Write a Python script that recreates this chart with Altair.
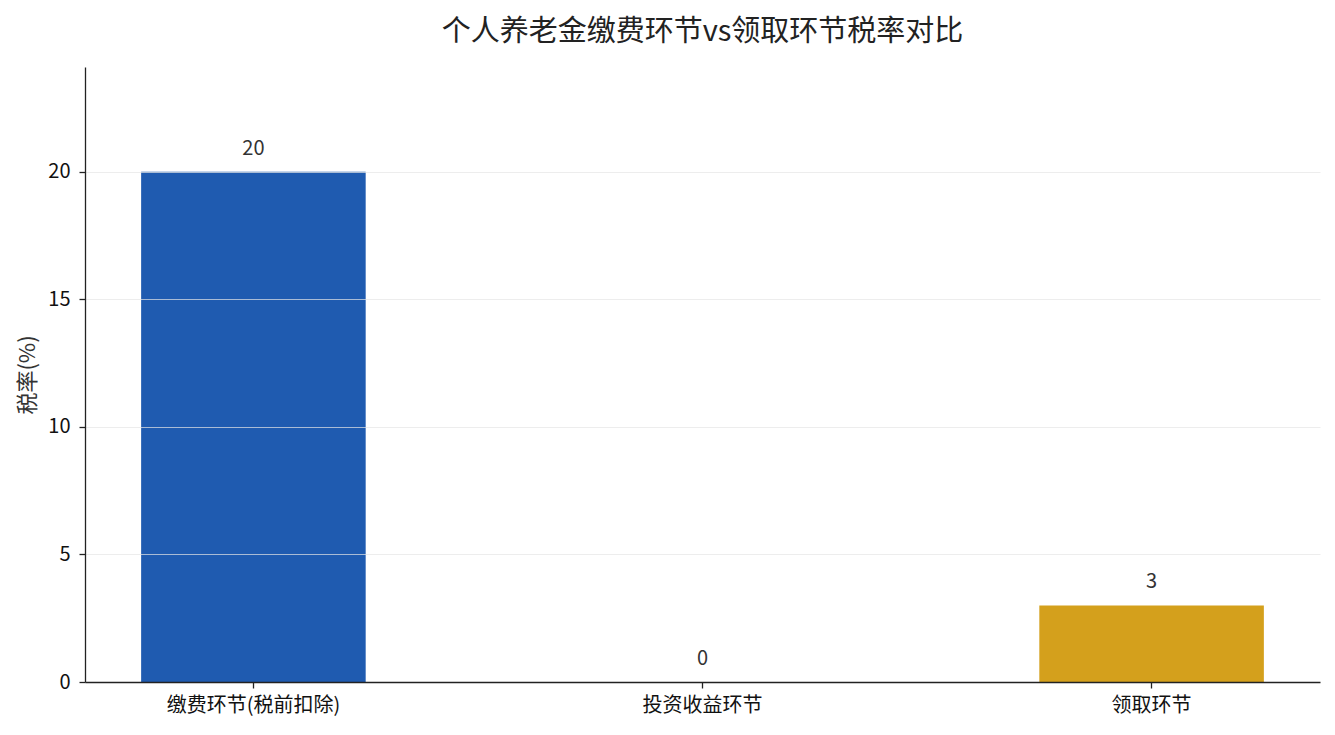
import altair as alt
import pandas as pd

categories = ["缴费环节(税前扣除)", "投资收益环节", "领取环节"]
values = [20, 0, 3]
colors = ["#1f5bb0", "#8c8c8c", "#d4a01c"]

df = pd.DataFrame({"stage": categories, "rate": values, "color": colors})

FONT = "Noto Sans CJK SC"

x = alt.X("stage:N", sort=categories, title=None,
          scale=alt.Scale(paddingInner=0.5, paddingOuter=0.125),
          axis=alt.Axis(labelAngle=0, labelFontSize=20, labelColor="#111", labelFont=FONT,
                        domainColor="#222", tickColor="#222", domainWidth=1.3, tickWidth=1.3, tickSize=6,
                        labelPadding=7, grid=False, zindex=2))
y = alt.Y("rate:Q", title="税率(%)",
          scale=alt.Scale(domain=[0, 24.1], nice=False),
          axis=alt.Axis(values=[0, 5, 10, 15, 20], labelFontSize=20, labelColor="#111", labelFont=FONT,
                        titleFontSize=22, titleFont=FONT, titleColor="#333", titleFontWeight="normal",
                        titlePadding=8, labelPadding=9,
                        domainColor="#222", tickColor="#222", domainWidth=1.3, tickWidth=1.3, tickSize=6,
                        grid=True, gridColor="#e6e6e6", gridOpacity=0.7, gridWidth=1, zindex=1))

bars = alt.Chart(df).mark_bar().encode(
    x=x, y=y,
    color=alt.Color("color:N", scale=None),
)
labels = alt.Chart(df).mark_text(baseline="alphabetic", dy=-17, fontSize=20, color="#333", font=FONT).encode(
    x=alt.X("stage:N", sort=categories),
    y=alt.Y("rate:Q"),
    text=alt.Text("rate:Q"),
)

chart = alt.layer(bars, labels).properties(
    width=1235, height=615,
    background="white",
    title=alt.TitleParams("个人养老金缴费环节vs领取环节税率对比", fontSize=29, font=FONT,
                          fontWeight="normal", color="#222", anchor="middle", offset=20),
    autosize=alt.AutoSizeParams(type="pad"),
    padding={"left": 8, "top": 10, "right": 7, "bottom": 5},
).configure_view(stroke=None)

chart.save("out.html", embed_options={"renderer": "svg", "actions": False})
